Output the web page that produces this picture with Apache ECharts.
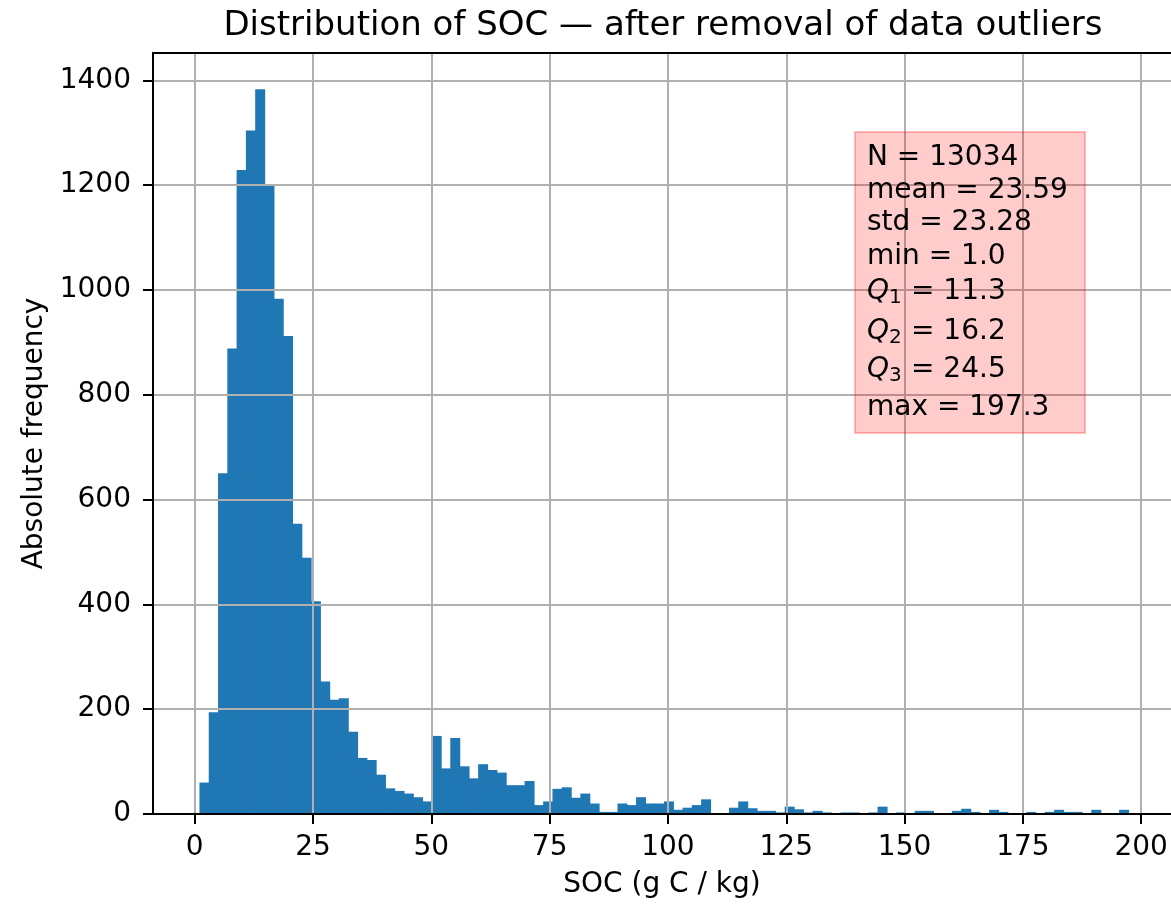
<!DOCTYPE html>
<html>
<head>
<meta charset="utf-8">
<title>Distribution of SOC</title>
<script src="https://cdn.jsdelivr.net/npm/echarts@6/dist/echarts.min.js"></script>
<style>
  html, body { margin: 0; padding: 0; background: #fff; }
  #chart { width: 1171px; height: 904px; }
</style>
</head>
<body>
<div id="chart"></div>
<script>
// histogram counts, 100 bins between min and max of SOC
const socMin = 1.0
const socMax = 197.3
const counts = [
  60, 194, 650, 888, 1229, 1304, 1383, 1199, 983, 912,
  554, 489, 406, 253, 218, 221, 157, 107, 103, 75,
  49, 44, 39, 32, 24, 149, 87, 145, 91, 68,
  95, 84, 79, 55, 55, 63, 17, 24, 48, 51,
  31, 39, 20, 4, 4, 20, 17, 32, 20, 20,
  24, 8, 12, 17, 28, 0, 0, 12, 24, 11,
  6, 6, 3, 14, 9, 3, 6, 3, 0, 3,
  3, 0, 3, 14, 0, 3, 0, 6, 6, 0,
  0, 6, 10, 4, 0, 8, 4, 0, 0, 4,
  0, 4, 8, 4, 4, 0, 8, 0, 0, 8,
]
const xTicks = [0, 25, 50, 75, 100, 125, 150, 175, 200]
const yTicks = [0, 200, 400, 600, 800, 1000, 1200, 1400]
// 统计量文本框
const statNames = ['N', 'mean', 'std', 'min', 'Q1', 'Q2', 'Q3', 'max']
const statValues = ['13034', '23.59', '23.28', '1.0', '11.3', '16.2', '24.5', '197.3']

const FONT = 'DejaVu Sans'
const binWidth = (socMax - socMin) / counts.length
const histData = counts.map((c, i) => [socMin + i * binWidth, socMin + (i + 1) * binWidth, c])

// 文本框内每一行的中心位置
const lineY = [158, 191, 223, 257, 292, 332, 370, 408]

function statText(i) {
  const name = statNames[i]
  const y = lineY[i]
  const base = { fill: '#000', fontFamily: FONT, fontSize: 28, verticalAlign: 'middle' }
  if (name[0] === 'Q') {
    return [
      { type: 'text', z: 11, x: 867, y, style: { ...base, text: 'Q', fontStyle: 'italic' } },
      { type: 'text', z: 11, x: 889, y: y + 6, style: { ...base, text: name.slice(1), fontSize: 20 } },
      { type: 'text', z: 11, x: 911, y, style: { ...base, text: '= ' + statValues[i] } },
    ]
  }
  return [{ type: 'text', z: 11, x: 867, y, style: { ...base, text: name + ' = ' + statValues[i] } }]
}

const chart = echarts.init(document.getElementById('chart'))

const axisText = { color: '#000', fontFamily: FONT, fontSize: 28 }

chart.setOption({
  animation: false,
  title: {
    text: 'Distribution of SOC — after removal of data outliers',
    left: 663,
    top: 9,
    padding: 0,
    textAlign: 'center',
    textStyle: { color: '#000', fontFamily: FONT, fontSize: 34, fontWeight: 'normal' },
  },
  grid: { left: 153, right: 0, top: 53, bottom: 89, containLabel: false },
  xAxis: [
    {
      type: 'value',
      min: -8.815,
      max: 206.3,
      z: 3,
      name: 'SOC (g C / kg)',
      nameLocation: 'middle',
      nameGap: 57,
      nameTextStyle: axisText,
      axisLine: { onZero: false, lineStyle: { color: '#000', width: 2 } },
      axisTick: { show: true, length: 10, customValues: xTicks, lineStyle: { color: '#000', width: 2 } },
      axisLabel: { customValues: xTicks, margin: 20, formatter: (v) => String(v), ...axisText },
      splitLine: { show: true, lineStyle: { color: '#b0b0b0', width: 2 } },
    },
    {
      type: 'value',
      position: 'top',
      min: -8.815,
      max: 206.3,
      z: 3,
      axisLine: { onZero: false, lineStyle: { color: '#000', width: 2 } },
      axisTick: { show: false },
      axisLabel: { show: false },
      splitLine: { show: false },
    },
  ],
  yAxis: {
    type: 'value',
    min: 0,
    max: 1452,
    z: 3,
    name: 'Absolute frequency',
    nameLocation: 'middle',
    nameGap: 99,
    nameTextStyle: axisText,
    axisLine: { show: true, onZero: false, lineStyle: { color: '#000', width: 2 } },
    axisTick: { show: true, length: 10, customValues: yTicks, lineStyle: { color: '#000', width: 2 } },
    axisLabel: { customValues: yTicks, margin: 22, formatter: (v) => String(v), ...axisText },
    splitLine: { show: true, lineStyle: { color: '#b0b0b0', width: 2 } },
  },
  series: [
    {
      type: 'custom',
      xAxisIndex: 0,
      encode: { x: [0, 1], y: 2 },
      data: histData,
      renderItem(params, api) {
        const p0 = api.coord([api.value(0), 0])
        const p1 = api.coord([api.value(1), api.value(2)])
        // 稍微加宽一点，避免相邻柱子之间出现缝隙
        return {
          type: 'rect',
          shape: { x: p0[0], y: p1[1], width: p1[0] - p0[0] + 0.7, height: p0[1] - p1[1] },
          style: { fill: '#1f77b4' },
        }
      },
    },
  ],
  graphic: [
    {
      type: 'rect',
      z: 10,
      shape: { x: 855, y: 132, width: 230, height: 301 },
      style: { fill: 'rgba(255,0,0,0.2)', stroke: 'rgba(255,0,0,0.25)', lineWidth: 2 },
    },
    ...statNames.flatMap((n, i) => statText(i)),
  ],
})
</script>
</body>
</html>
